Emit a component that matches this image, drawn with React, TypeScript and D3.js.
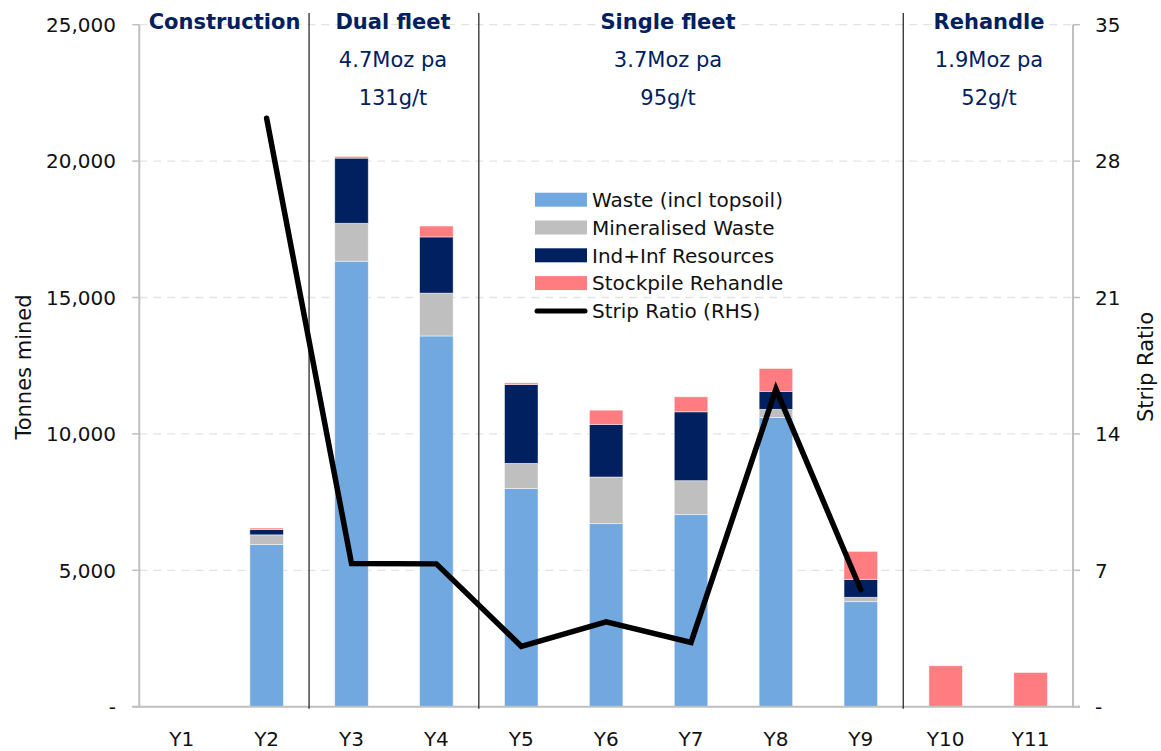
import React from "react";
import * as d3 from "d3";

const categories = ["Y1", "Y2", "Y3", "Y4", "Y5", "Y6", "Y7", "Y8", "Y9", "Y10", "Y11"];
const waste = [0, 5950, 16330, 13590, 8000, 6710, 7040, 10600, 3850, 0, 0];
const mineralised = [0, 350, 1390, 1570, 920, 1710, 1245, 300, 160, 0, 0];
const indInf = [0, 200, 2390, 2060, 2890, 1930, 2525, 660, 660, 0, 0];
const stockpile = [0, 50, 60, 400, 60, 520, 550, 840, 1025, 1500, 1255];
const stripRatio: (number | null)[] = [null, 30.2, 7.35, 7.33, 3.1, 4.35, 3.3, 16.3, 6.0, null, null];

const leftTicks = [0, 5000, 10000, 15000, 20000, 25000];
const rightTicks = [0, 7, 14, 21, 28, 35];

const seriesNames = ["Waste (incl topsoil)", "Mineralised Waste", "Ind+Inf Resources", "Stockpile Rehandle"];
const seriesColors = ["#70A8DF", "#BFBFBF", "#002060", "#FF7C80"];
const lineName = "Strip Ratio (RHS)";

const sectionTitles = ["Construction", "Dual fleet", "Single fleet", "Rehandle"];
const sectionRates = ["", "4.7Moz pa", "3.7Moz pa", "1.9Moz pa"];
const sectionGrades = ["", "131g/t", "95g/t", "52g/t"];
// divider after these categories
const dividerAfter = ["Y2", "Y4", "Y9"];

const W = 1161;
const H = 751;
const plotL = 139.3;
const plotR = 1073;
const plotT = 24.7;
const plotB = 706.7;

const sectionLabelX = [224.5, 393, 668, 989];

const FONT = "'DejaVu Sans', 'Liberation Sans', Arial, sans-serif";

export default function App() {
  const x = d3.scaleBand<string>().domain(categories).range([plotL, plotR]).paddingInner(0.605).paddingOuter(0.3025);
  const yL = d3.scaleLinear().domain([0, 25000]).range([plotB, plotT]);
  const yR = d3.scaleLinear().domain([0, 35]).range([plotB, plotT]);

  const rows = categories.map((c, i) => ({
    cat: c,
    s0: waste[i],
    s1: mineralised[i],
    s2: indInf[i],
    s3: stockpile[i],
  }));
  const stack = d3.stack<any>().keys(["s0", "s1", "s2", "s3"]);
  const stacked = stack(rows);

  const lineData = categories
    .map((c, i) => ({ c, v: stripRatio[i] }))
    .filter((d) => d.v !== null) as { c: string; v: number }[];
  const line = d3
    .line<{ c: string; v: number }>()
    .x((d) => (x(d.c) as number) + x.bandwidth() / 2)
    .y((d) => yR(d.v));

  const step = x.step();
  const fmt = d3.format(",");

  const legendX = 535;
  const legendY = 199.7;
  const legendStep = 27.8;

  return (
    <svg width={W} height={H} style={{ position: "absolute", left: 0, top: 0, background: "#fff" }} fontFamily={FONT}>
      {/* gridlines */}
      {leftTicks.filter((t) => t > 0).map((t) => (
        <line key={"g" + t} x1={plotL} x2={plotR} y1={yL(t)} y2={yL(t)} stroke="#E3E3E3" strokeWidth={1.3} strokeDasharray="8,6" />
      ))}

      {/* bars */}
      {stacked.map((layer, si) => (
        <g key={"layer" + si} fill={seriesColors[si]}>
          {layer.map((d, i) =>
            d[1] - d[0] > 0 ? (
              <rect
                key={categories[i]}
                x={x(categories[i]) as number}
                y={yL(d[1])}
                width={x.bandwidth()}
                height={yL(d[0]) - yL(d[1])}
                stroke="#ffffff"
                strokeOpacity={0.6}
                strokeWidth={0.8}
              />
            ) : null
          )}
        </g>
      ))}

      {/* axes */}
      <line x1={plotL} x2={plotL} y1={plotT} y2={plotB + 1} stroke="#BFBFBF" strokeWidth={2} />
      <line x1={plotR} x2={plotR} y1={plotT} y2={plotB + 1} stroke="#BFBFBF" strokeWidth={2} />
      <line x1={plotL - 7} x2={plotR + 7} y1={plotB} y2={plotB} stroke="#BFBFBF" strokeWidth={2} />
      {leftTicks.map((t) => (
        <g key={"lt" + t}>
          <line x1={plotL - 7} x2={plotL} y1={yL(t)} y2={yL(t)} stroke="#BFBFBF" strokeWidth={1.5} />
          <text x={116} y={yL(t)} dy="0.36em" textAnchor="end" fontSize={20} fill="#111">
            {t === 0 ? "-" : fmt(t)}
          </text>
        </g>
      ))}
      {rightTicks.map((t) => (
        <g key={"rt" + t}>
          <line x1={plotR} x2={plotR + 7} y1={yR(t)} y2={yR(t)} stroke="#BFBFBF" strokeWidth={1.5} />
          <text x={1095} y={yR(t)} dy="0.36em" textAnchor="start" fontSize={20} fill="#111">
            {t === 0 ? "-" : String(t)}
          </text>
        </g>
      ))}
      {categories.map((c) => (
        <text key={"xl" + c} x={(x(c) as number) + x.bandwidth() / 2} y={746} textAnchor="middle" fontSize={20} fill="#111">
          {c}
        </text>
      ))}
      <text transform={`translate(31,367) rotate(-90)`} textAnchor="middle" fontSize={21} fill="#111">
        Tonnes mined
      </text>
      <text transform={`translate(1153,367) rotate(-90)`} textAnchor="middle" fontSize={21} fill="#111">
        Strip Ratio
      </text>

      {/* dividers */}
      {dividerAfter.map((c) => {
        const xx = (x(c) as number) + x.bandwidth() / 2 + step / 2;
        return <line key={"d" + c} x1={xx} x2={xx} y1={13} y2={plotB + 2} stroke="#1a1a1a" strokeWidth={1.2} />;
      })}

      {/* strip ratio line */}
      <path d={line(lineData) || ""} fill="none" stroke="#000" strokeWidth={5.5} strokeLinejoin="miter" strokeLinecap="round" />

      {/* section labels */}
      {sectionTitles.map((t, i) => (
        <g key={"s" + i} fill="#002060" textAnchor="middle">
          <text x={sectionLabelX[i]} y={29} fontSize={21} fontWeight="bold">
            {t}
          </text>
          {sectionRates[i] && (
            <text x={sectionLabelX[i]} y={67} fontSize={21}>
              {sectionRates[i]}
            </text>
          )}
          {sectionGrades[i] && (
            <text x={sectionLabelX[i]} y={105} fontSize={21}>
              {sectionGrades[i]}
            </text>
          )}
        </g>
      ))}

      {/* legend */}
      {seriesNames.map((n, i) => (
        <g key={"lg" + i}>
          <rect x={legendX} y={legendY + i * legendStep - 7} width={52} height={14} fill={seriesColors[i]} />
          <text x={592} y={legendY + i * legendStep} dy="0.36em" fontSize={20} fill="#111">
            {n}
          </text>
        </g>
      ))}
      <line x1={legendX + 2} x2={legendX + 50} y1={legendY + 4 * legendStep} y2={legendY + 4 * legendStep} stroke="#000" strokeWidth={5} strokeLinecap="round" />
      <text x={592} y={legendY + 4 * legendStep} dy="0.36em" fontSize={20} fill="#111">
        {lineName}
      </text>
    </svg>
  );
}
